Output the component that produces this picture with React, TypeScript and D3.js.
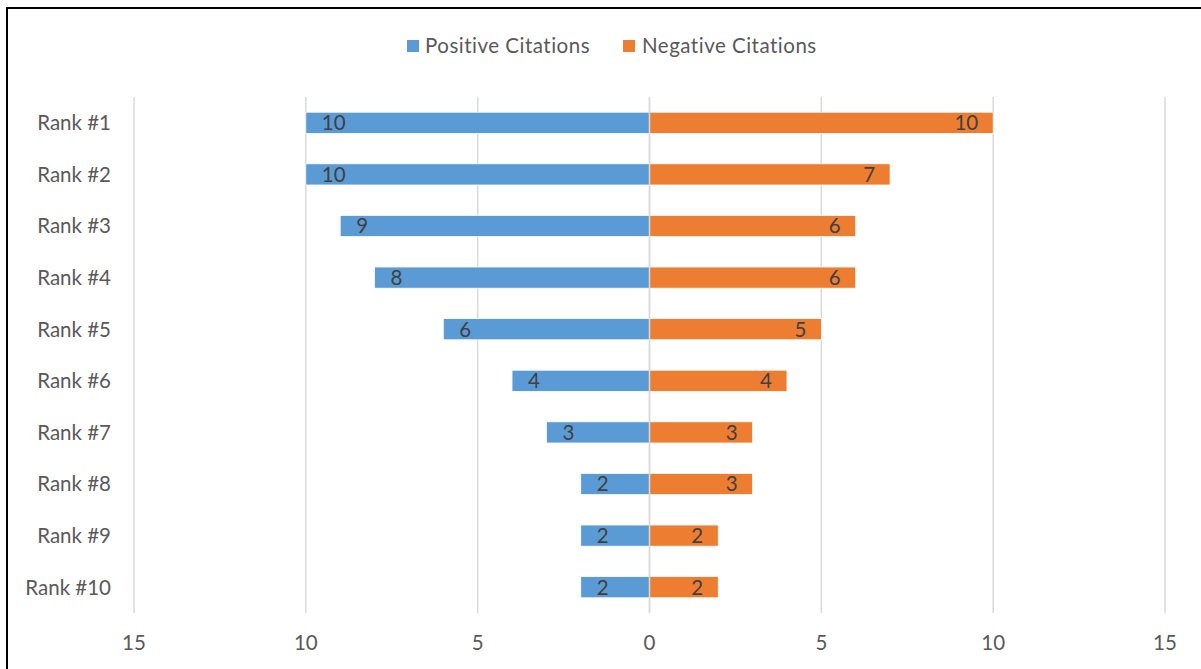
import React from "react";
import * as d3 from "d3";

const categories = ["Rank #1", "Rank #2", "Rank #3", "Rank #4", "Rank #5", "Rank #6", "Rank #7", "Rank #8", "Rank #9", "Rank #10"];
const positiveCitations = [10, 10, 9, 8, 6, 4, 3, 2, 2, 2];
const negativeCitations = [10, 7, 6, 6, 5, 4, 3, 3, 2, 2];
const xTicks = [-15, -10, -5, 0, 5, 10, 15];
const seriesNames = ["Positive Citations", "Negative Citations"];
const colors = ["#5B9BD5", "#ED7D31"];

const W = 1201;
const H = 669;
const FONT = "Lato, 'Open Sans', sans-serif";
const TEXT = "#595959";
const FS = 20.5;

export default function App() {
  const x = d3.scaleLinear().domain([-15, 15]).range([134, 1165]);
  const y = d3.scaleBand<string>().domain(categories).range([97, 613]).paddingInner(0.59).paddingOuter(0.295);
  const bh = y.bandwidth();

  return (
    <svg width={W} height={H} style={{ position: "absolute", left: 0, top: 0, background: "#fff", fontVariantLigatures: "none" }} fontFamily={FONT}>
      <rect x={7} y={8} width={W + 20} height={H + 20} fill="#fff" stroke="#000" strokeWidth={2} />
      {/* gridlines */}
      {xTicks.map((t) => (
        <line key={t} x1={x(t)} x2={x(t)} y1={97} y2={613} stroke="#D9D9D9" strokeWidth={1.5} />
      ))}
      {/* bars */}
      {categories.map((c, i) => {
        const yy = y(c)!;
        const pv = positiveCitations[i];
        const nv = negativeCitations[i];
        return (
          <g key={c}>
            <rect x={x(-pv)} y={yy} width={x(0) - x(-pv)} height={bh} fill={colors[0]} stroke="#fff" strokeWidth={0.75} />
            <rect x={x(0)} y={yy} width={x(nv) - x(0)} height={bh} fill={colors[1]} stroke="#fff" strokeWidth={0.75} />
            <text x={x(-pv) + 16} y={yy + bh / 2} dy="0.36em" fontSize={FS} fill="#404040" textAnchor="start">{pv}</text>
            <text x={x(nv) - 15} y={yy + bh / 2} dy="0.36em" fontSize={FS} fill="#404040" textAnchor="end">{nv}</text>
            <text x={111} y={yy + bh / 2} dy="0.36em" fontSize={FS} fill={TEXT} textAnchor="end">{c}</text>
          </g>
        );
      })}
      <line x1={x(0)} x2={x(0)} y1={97} y2={613} stroke="#D9D9D9" strokeWidth={1.5} />
      {/* x tick labels */}
      {xTicks.map((t) => (
        <text key={t} x={x(t)} y={643} dy="0.36em" fontSize={FS} fill={TEXT} textAnchor="middle">{Math.abs(t)}</text>
      ))}
      {/* legend */}
      <g>
        <rect x={407} y={40} width={12} height={12} fill={colors[0]} />
        <text x={425} y={46} dy="0.36em" fontSize={FS} fill={TEXT} letterSpacing={0.5}>{seriesNames[0]}</text>
        <rect x={623} y={40} width={12} height={12} fill={colors[1]} />
        <text x={642} y={46} dy="0.36em" fontSize={FS} fill={TEXT} letterSpacing={0.5}>{seriesNames[1]}</text>
      </g>
    </svg>
  );
}
